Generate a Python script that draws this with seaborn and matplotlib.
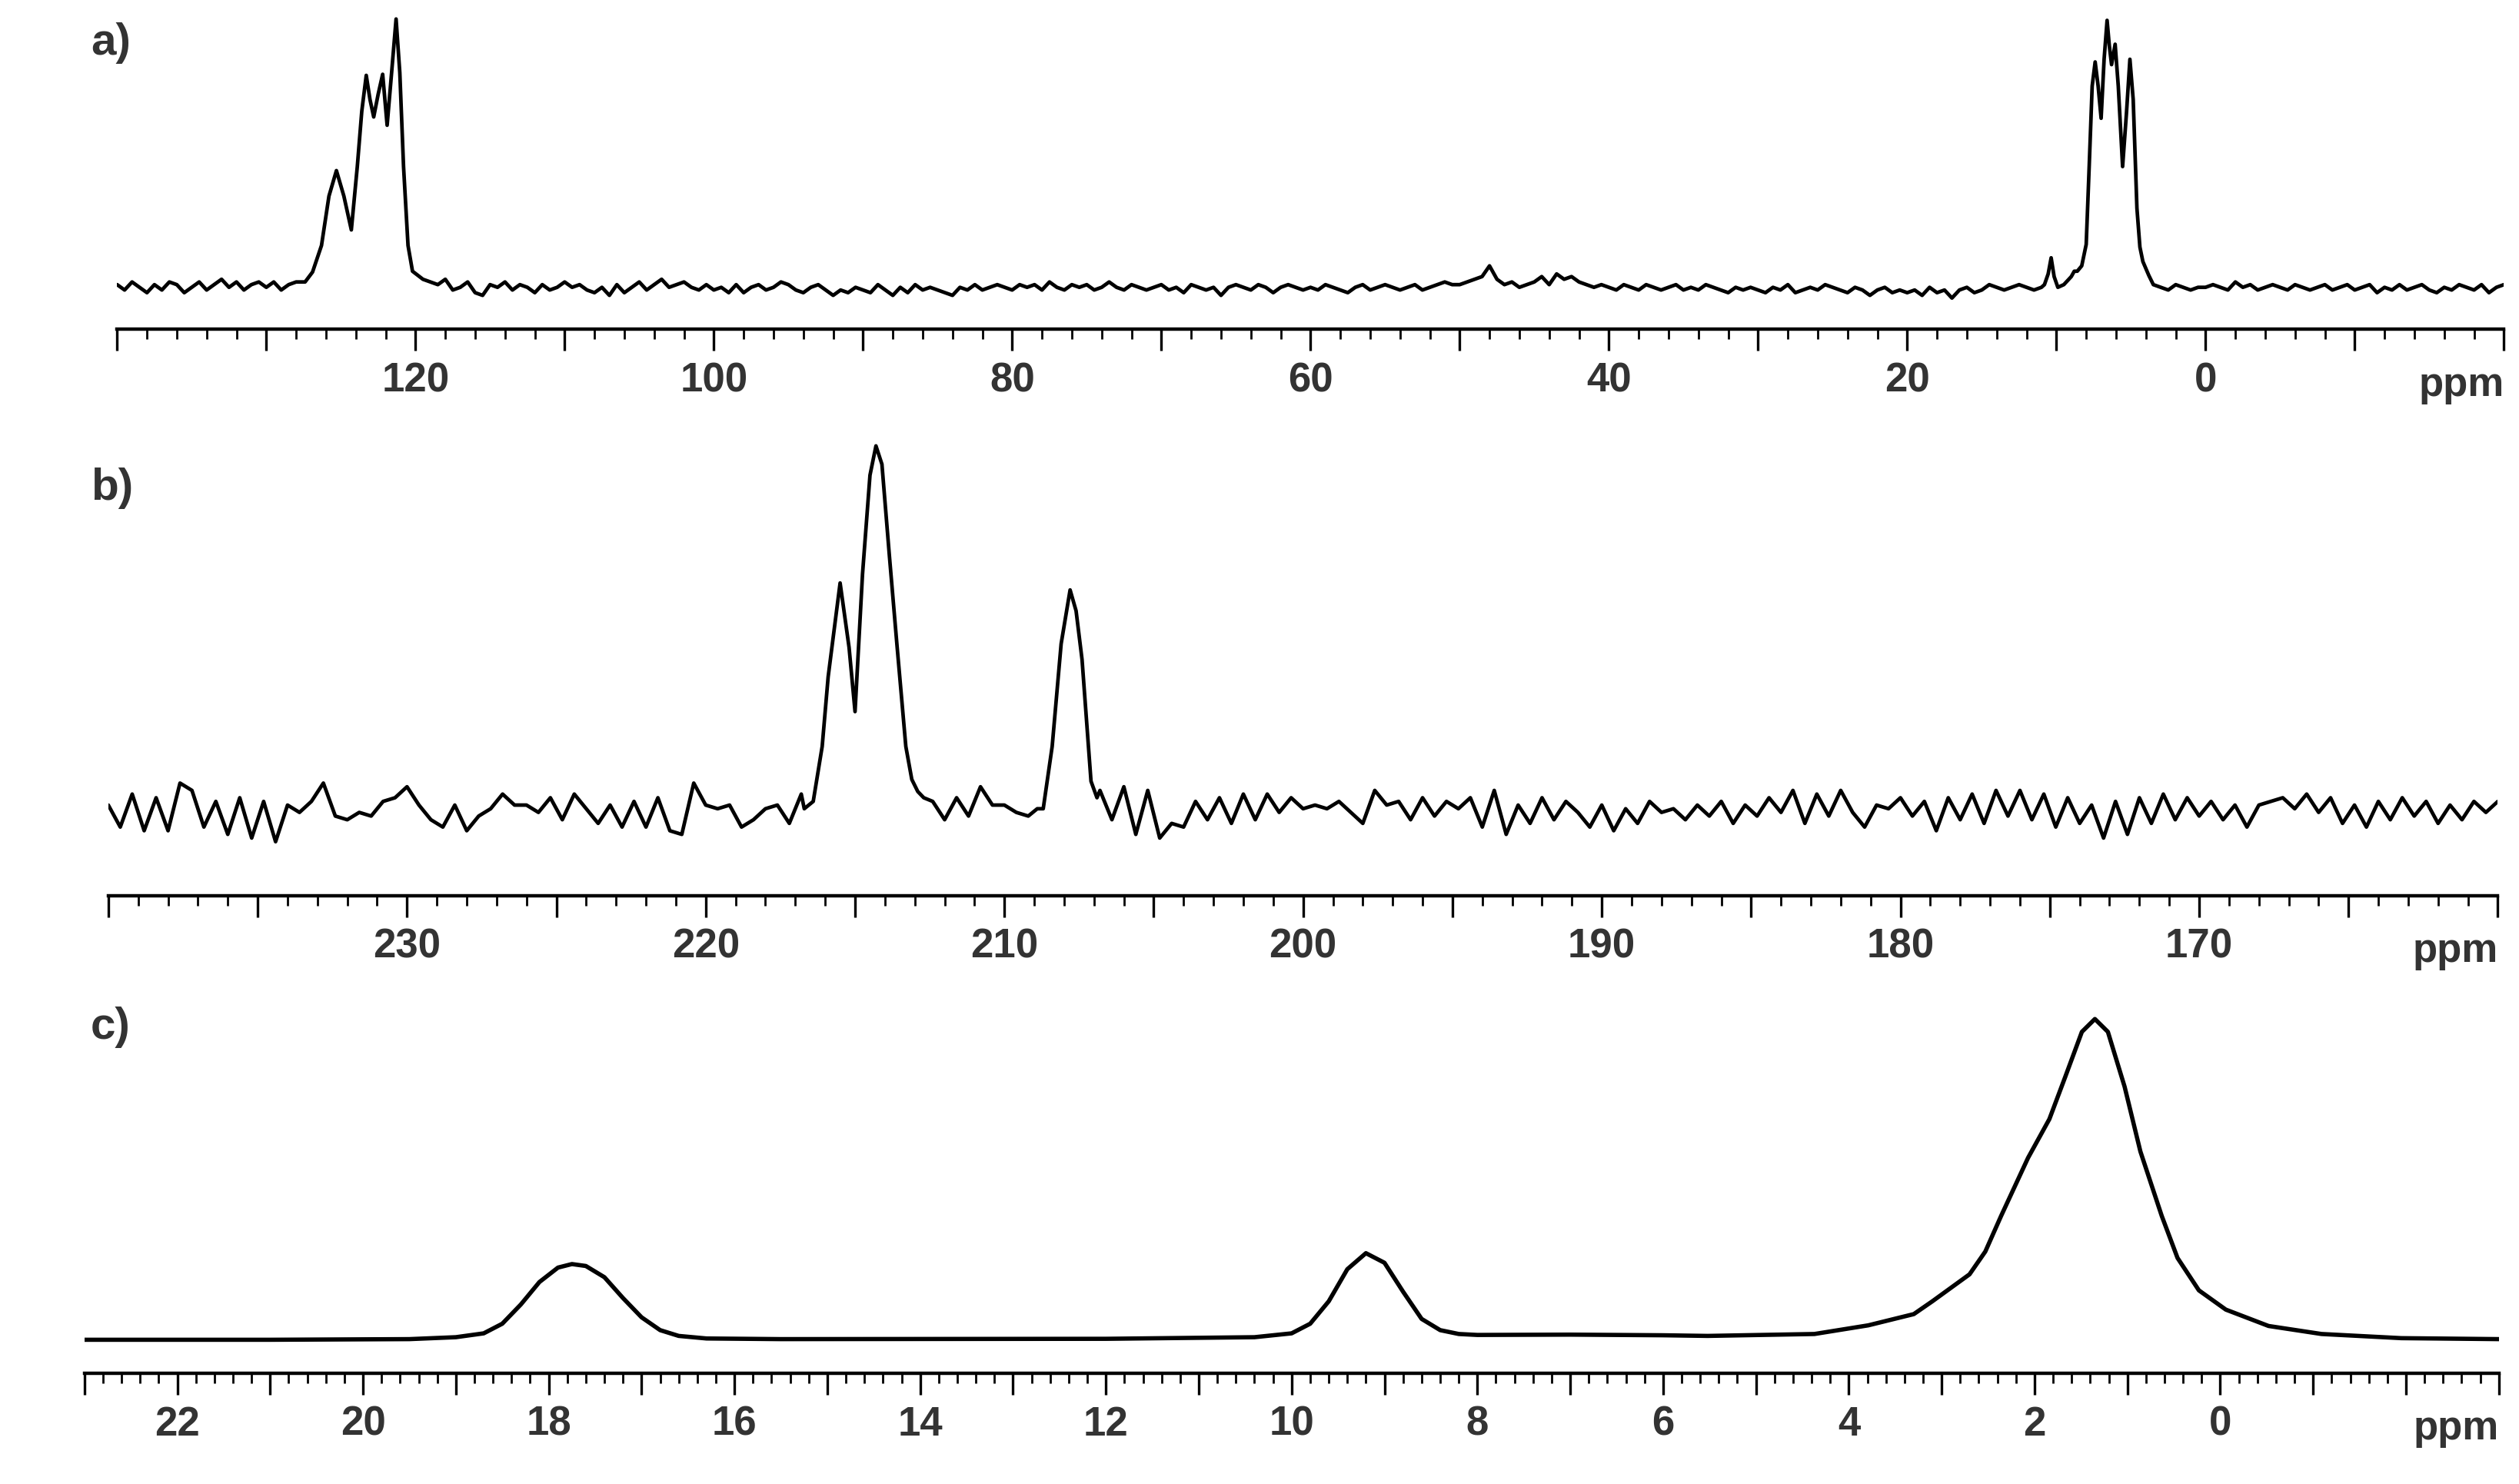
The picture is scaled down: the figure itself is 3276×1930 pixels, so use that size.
import numpy as np
import pandas as pd
import seaborn as sns
import matplotlib.pyplot as plt
from matplotlib.ticker import MultipleLocator
from matplotlib.transforms import ScaledTranslation

sns.set_style("white")
plt.rcParams['font.family'] = ['Liberation Sans', 'DejaVu Sans']

# ---- panel a: baseline noise, 140 -> -20 ppm, step 0.5
a_grid = np.arange(140, -20.01, -0.5)
a_noise = [1,-1,2,0,-2,1,-1,2,1,-2,0,2,-1,1,3,0,2,-1,1,2,
           0,2,-1,1,2,0,1,3,1,0,-2,2,1,0,3,0,0,0,0,0,
           0,3,2,1,3,-1,0,2,-2,-3,1,0,2,-1,1,0,-2,1,-1,0,
           2,0,1,-1,-2,0,-3,1,-2,0,2,-1,1,3,0,1,2,0,-1,1,
           -1,0,-2,1,-2,0,1,-1,0,2,1,-1,-2,0,1,-1,-3,-1,-2,0,
           -1,-2,1,-1,-3,0,-2,1,-1,0,-1,-2,-3,0,-1,1,-1,0,1,0,
           -1,1,0,1,-1,2,0,-1,1,0,1,-1,0,2,0,-1,1,0,-1,0,
           1,-1,0,-2,1,0,-1,0,-3,0,1,0,-1,1,0,-2,0,1,0,-1,
           0,-1,1,0,-1,-2,0,1,-1,0,1,0,-1,0,1,-1,0,1,2,1,
           1,2,3,4,8,3,1,2,0,1,2,4,1,5,3,4,2,1,0,1,
           0,-1,1,0,-1,1,0,-1,0,1,-1,0,-1,1,0,-1,-2,0,-1,0,
           -1,-2,0,-1,1,-2,-1,0,-1,1,0,-1,-2,0,-1,-3,-1,0,-2,-1,
           -2,-1,-3,0,-2,-1,-4,-1,0,-2,-1,1,0,-1,0,1,0,-1,0,0,
           0,0,0,0,0,0,0,0,0,0,0,0,0,1,0,-1,1,0,-1,0,
           0,1,0,-1,2,0,1,-1,0,1,0,-1,1,0,-1,0,1,-1,0,1,
           -1,0,1,-2,0,-1,1,-1,0,1,-1,-2,0,-1,1,0,-1,1,-2,0,
           1]
a_peak1_ppm = [127.4,126.9,126.3,125.8,125.3,124.8,124.3,123.9,123.6,123.3,123.05,122.8,
               122.5,122.2,121.9,121.6,121.3,121.05,120.8,120.5,120.2]
a_peak1_int = [2,5.7,15.6,34,43.5,34,21.4,45,65.6,79,70,63.5,72,79.4,60.4,80,100,80,45,15.6,6]
a_peak2_ppm = [10.8,10.55,10.35,10.15,9.9,9.5,9.0,8.8,8.6,8.3,8.0,7.8,7.6,7.4,7.2,7.0,6.8,6.6,
               6.45,6.3,6.06,5.85,5.56,5.3,5.07,4.85,4.6,4.4,4.2,3.8]
a_peak2_int = [1,5,11,4,0,1,4,6,6,8,16,45,75,84,75,63,85,99.5,90,83,90.6,75,45,65,85,70,
               29.5,15,9.6,4.4]

# ---- panel b: baseline noise, 240 -> 160 ppm, step 0.4
b_grid = np.arange(240, 159.99, -0.4)
b_noise = [2,-4,5,-5,4,-5,8,6,-4,3,-6,4,-7,3,-8,2,0,3,8,-1,
           -2,0,-1,3,4,7,2,-2,-4,2,-5,-1,1,5,2,2,0,4,-2,5,
           1,-3,2,-4,3,-4,4,-5,-6,8,2,1,2,-4,-2,1,2,-3,5,0,
           0,0,0,0,0,0,0,0,0,3,-2,4,-1,7,2,2,0,-1,0,0,
           0,0,0,6,-2,7,-6,6,-7,-3,-4,3,-2,4,-3,5,-2,5,0,4,
           1,2,1,3,0,-3,6,2,3,-2,4,-1,3,1,4,-4,6,-6,2,-3,
           4,-2,3,0,-4,2,-5,1,-3,3,0,1,-2,2,-1,3,-3,2,-1,4,
           0,6,-3,5,-1,6,0,-4,2,1,4,-1,3,-5,4,-2,5,-3,6,-1,
           6,-2,5,-4,4,-3,2,-7,3,-6,4,-3,5,-2,4,-1,3,-2,2,-4,
           2,3,4,1,5,0,4,-3,2,-4,3,-2,4,-1,3,-3,2,-2,3,0,
           3]
b_peak1_ppm = [216.7,216.4,216.1,215.9,215.5,215.2,215.0,214.75,214.5,214.3,214.1,213.85,
               213.6,213.3,213.1,212.9,212.7]
b_peak1_int = [1,3,18,37,62.6,45,27.5,65,92,100,95,70,46,18,9,5.7,4]
b_peak2_ppm = [208.9,208.7,208.4,208.1,207.8,207.6,207.4,207.1,206.9]
b_peak2_int = [1,1,18,46,60.7,55,41.7,8.5,4]

# ---- panel c: smooth 1H spectrum
c_ppm = [23,21,19.5,19.0,18.7,18.5,18.3,18.1,17.9,17.75,17.6,17.4,17.2,17.0,16.8,16.6,16.3,15.5,
         12,10.4,10.0,9.8,9.6,9.4,9.2,9.0,8.8,8.6,8.4,8.2,8.0,7,6,5.52,4.37,3.79,3.30,3.10,2.70,
         2.53,2.36,2.07,1.84,1.67,1.49,1.35,1.21,1.03,0.86,0.63,0.46,0.23,-0.06,-0.52,-1.09,
         -1.95,-3]
c_int = [0,0,0.2,0.8,2,5,11,18,22.5,23.6,23,19.5,13,7,3,1.2,0.4,0.2,
         0.3,0.8,2,5,12,22,27,24,15,6.5,3,1.8,1.5,1.6,1.4,1.2,1.8,4.5,8,12,20.4,
         27.5,38.6,56.7,68.8,81.9,96,100,96,78.9,58.7,38.6,25.5,15.4,9.4,4.3,1.8,
         0.5,0.2]


def build(grid, noise, windows, peaks):
    grid = np.round(grid, 2)
    noise = np.array(noise, dtype=float)
    keep = np.ones(len(grid), bool)
    for hi, lo in windows:
        keep &= ~((grid < hi) & (grid > lo))
    x = np.concatenate([grid[keep]] + [np.array(p[0]) for p in peaks])
    y = np.concatenate([noise[keep]] + [np.array(p[1]) for p in peaks])
    order = np.argsort(-x)
    return pd.DataFrame({"ppm": x[order], "intensity": y[order]})


df_a = build(a_grid, a_noise, [(127.6, 119.8), (10.9, 3.6)],
             [(a_peak1_ppm, a_peak1_int), (a_peak2_ppm, a_peak2_int)])
df_b = build(b_grid, b_noise, [(216.8, 212.6), (209.0, 206.8)],
             [(b_peak1_ppm, b_peak1_int), (b_peak2_ppm, b_peak2_int)])
df_c = pd.DataFrame({"ppm": c_ppm, "intensity": c_int})

fig = plt.figure(figsize=(16.38, 9.65), dpi=200)

panels = [
    # df, rect, xlim, ylim bottom, major, minor, labels, tag, tag y, linewidth
    (df_a, [0.0465, 0.778, 0.9475, 0.211], (140, -20), -15.7, 10, 2, range(0, 121, 20), "a)", 0.985, 1.7),
    (df_b, [0.043, 0.3965, 0.9486, 0.3055], (240, 160), -22.7, 5, 1, range(170, 231, 10), "b)", 0.685, 1.7),
    (df_c, [0.0335, 0.0745, 0.9585, 0.241], (23, -3), -10.5, 1, 0.2, range(0, 23, 2), "c)", 0.322, 2.0),
]

for df, rect, xl, ybot, major, minor, labs, tag, ty, lw in panels:
    ax = fig.add_axes(rect)
    sns.lineplot(data=df, x="ppm", y="intensity", sort=False, color="black",
                 linewidth=lw, ax=ax)
    ax.set_xlim(*xl)
    ax.set_ylim(ybot, 101)
    for s in ["top", "left", "right"]:
        ax.spines[s].set_visible(False)
    ax.spines["bottom"].set_linewidth(1.6)
    ax.spines["bottom"].set_color("black")
    ax.set_yticks([])
    ax.set_xlabel("")
    ax.set_ylabel("")
    ax.xaxis.set_major_locator(MultipleLocator(major))
    ax.xaxis.set_minor_locator(MultipleLocator(minor))
    ax.tick_params(axis="x", which="both", bottom=True, top=False)
    ax.tick_params(axis="x", which="major", direction="out", length=10, width=1.2,
                   color="black", pad=5, labelsize=19, labelcolor="#333333")
    ax.tick_params(axis="x", which="minor", direction="out", length=4.5, width=1.0,
                   color="black")
    ticks = ax.get_xticks()
    labs = set(labs)
    ax.set_xticks(ticks)
    ax.set_xticklabels([str(int(round(t))) if int(round(t)) in labs and abs(t - round(t)) < 1e-6 else ""
                        for t in ticks], fontweight="bold")
    ax.set_xlim(*xl)
    off = ScaledTranslation(0, -17 / 72, fig.dpi_scale_trans)
    ax.text(1.0, 0.0, "ppm", transform=ax.transAxes + off, ha="right", va="top",
            fontsize=19, fontweight="bold", color="#333333")
    fig.text(0.036, ty, tag, ha="left", va="top", fontsize=21, fontweight="bold",
             color="#333333")

fig.savefig("out.png", dpi=200, facecolor="white")
